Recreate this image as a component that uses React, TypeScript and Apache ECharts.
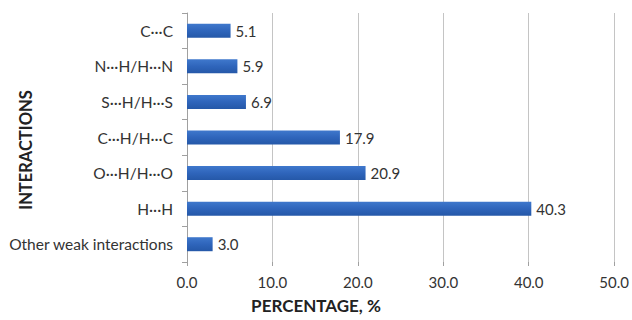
import React, { useEffect, useRef } from "react";
import * as echarts from "echarts";

const categories = [
  "C···C",
  "N···H/H···N",
  "S···H/H···S",
  "C···H/H···C",
  "O···H/H···O",
  "H···H",
  "Other weak interactions",
];
const values = [5.1, 5.9, 6.9, 17.9, 20.9, 40.3, 3.0];
const xTicks = { min: 0, max: 50, interval: 10 };
const xTitle = "PERCENTAGE, %";
const yTitle = "INTERACTIONS";

const FONT = "Lato, 'Open Sans', sans-serif";

export default function App() {
  const ref = useRef<HTMLDivElement>(null);
  useEffect(() => {
    document.body.style.margin = "0";
    const chart = echarts.init(ref.current!, null, { renderer: "svg" });
    chart.setOption({
      animation: false,
      backgroundColor: "#ffffff",
      textStyle: { fontFamily: FONT },
      grid: { left: 187, right: 17, top: 13, bottom: 58 },
      xAxis: {
        type: "value",
        min: xTicks.min,
        max: xTicks.max,
        interval: xTicks.interval,
        axisLine: { show: false },
        axisTick: { show: true, length: 4, lineStyle: { color: "#a0a0a0" } },
        splitLine: { show: true, lineStyle: { color: "#c4c4c4", width: 1 } },
        axisLabel: {
          color: "#333",
          fontSize: 15,
          fontFamily: FONT,
          margin: 12,
          formatter: (v: number) => v.toFixed(1),
        },
      },
      yAxis: {
        type: "category",
        data: categories,
        inverse: true,
        axisLine: { show: true, lineStyle: { color: "#a0a0a0" } },
        axisTick: { show: true, length: 5, lineStyle: { color: "#a0a0a0" } },
        axisLabel: { color: "#333", fontSize: 15.5, fontFamily: FONT, margin: 14 },
        splitLine: { show: false },
      },
      series: [
        {
          type: "bar",
          data: values,
          barWidth: 14,
          itemStyle: {
            color: new echarts.graphic.LinearGradient(0, 0, 0, 1, [
              { offset: 0, color: "#3f78cc" },
              { offset: 0.5, color: "#2f65bb" },
              { offset: 1, color: "#2558a8" },
            ]),
          },
          label: {
            show: true,
            position: "right",
            distance: 5,
            color: "#333",
            fontSize: 15,
            fontFamily: FONT,
            formatter: (p: any) => Number(p.value).toFixed(1),
          },
        },
      ],
      graphic: [
        {
          type: "text",
          x: 316,
          y: 305,
          style: {
            text: xTitle,
            fontSize: 17,
            fontWeight: "bold",
            fontFamily: FONT,
            fill: "#222",
            align: "center",
            verticalAlign: "middle",
          },
        },
        {
          type: "text",
          x: 26,
          y: 150,
          rotation: Math.PI / 2,
          style: {
            text: yTitle,
            fontSize: 16.5,
            fontWeight: "bold",
            fontFamily: FONT,
            fill: "#222",
            align: "center",
            verticalAlign: "middle",
          },
        },
      ],
    });
    return () => chart.dispose();
  }, []);
  return <div ref={ref} style={{ width: 632, height: 320 }} />;
}
